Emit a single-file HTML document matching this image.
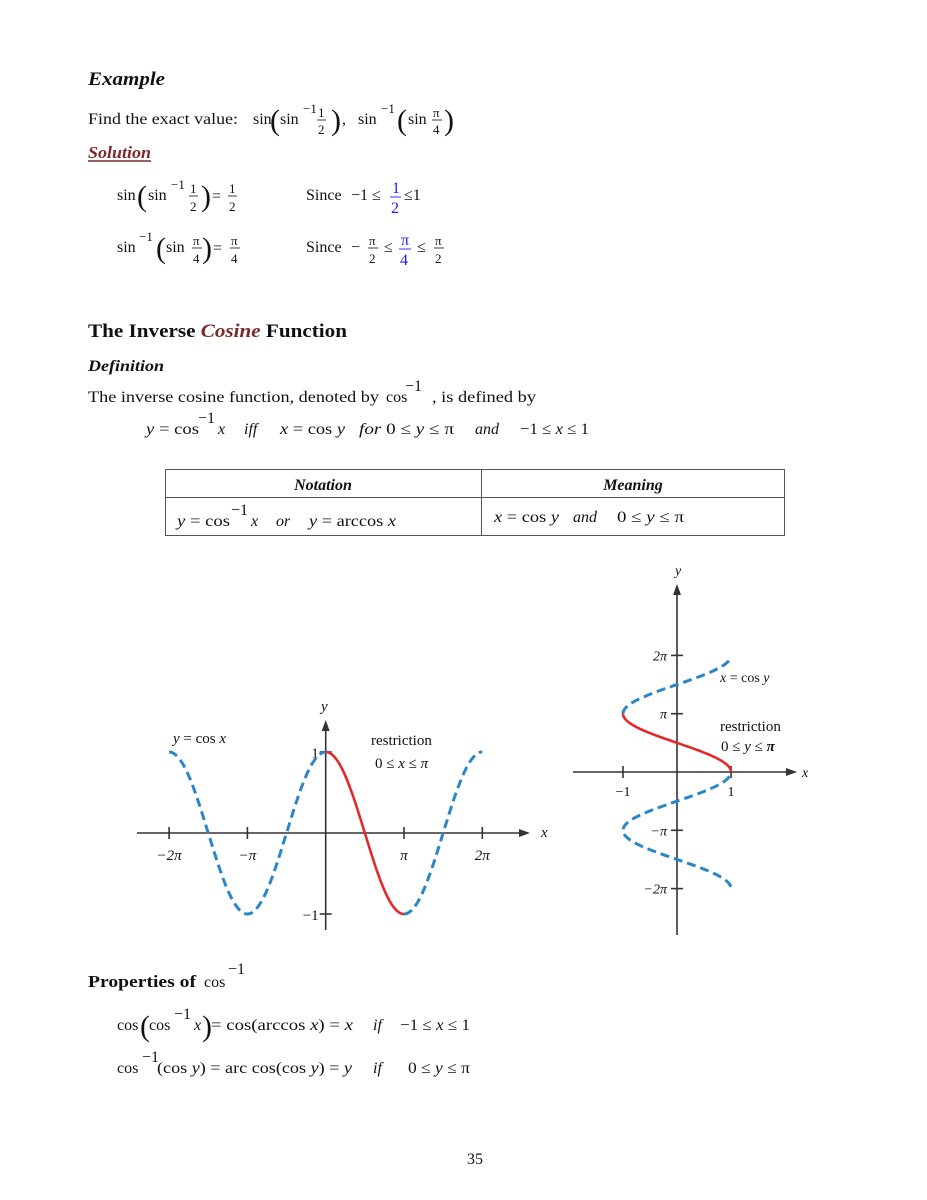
<!DOCTYPE html>
<html><head><meta charset="utf-8">
<style>
html,body{margin:0;padding:0;background:#fff;}
svg{display:block;}
text{font-family:"Liberation Serif",serif;fill:#111;white-space:pre;}
.m{font-size:16px;}
.f{font-size:13px;}
.i{font-style:italic;}
.b{font-weight:bold;}
.blue{fill:#1a1aff;}
.p{font-size:30px;font-weight:normal;}
.ax{stroke:#333;stroke-width:1.6;fill:none;}
</style></head>
<body>
<svg id="page" width="927" height="1200" viewBox="0 0 927 1200" xmlns="http://www.w3.org/2000/svg">
<g>
<text x="88" y="85" class="b i" font-size="19" textLength="77" lengthAdjust="spacingAndGlyphs">Example</text>
<text x="88" y="124" class="m" textLength="150" lengthAdjust="spacingAndGlyphs">Find the exact value:</text>
<text x="253" y="124" class="m">sin</text>
<text x="270" y="130" class="p">(</text>
<text x="280" y="124" class="m">sin</text>
<text x="303" y="113" class="f">−1</text>
<text x="318" y="117" class="f">1</text><line x1="317" y1="120" x2="326" y2="120" stroke="#111" stroke-width="0.8"/><text x="318" y="134" class="f">2</text>
<text x="331" y="130" class="p">)</text>
<text x="342" y="124" class="m">,</text>
<text x="358" y="124" class="m">sin</text>
<text x="381" y="113" class="f">−1</text>
<text x="397" y="130" class="p">(</text>
<text x="408" y="124" class="m">sin</text>
<text x="433" y="117" class="f">π</text><line x1="432" y1="120" x2="442" y2="120" stroke="#111" stroke-width="0.8"/><text x="433" y="134" class="f">4</text>
<text x="444" y="130" class="p">)</text>
<text x="88" y="158" class="b i" font-size="17" style="fill:#7b2a2a" textLength="63" lengthAdjust="spacingAndGlyphs">Solution</text>
<line x1="88" y1="161" x2="151" y2="161" stroke="#7b2a2a" stroke-width="1.5"/>

<text x="117" y="200" class="m">sin</text><text x="137" y="206" class="p">(</text><text x="148" y="200" class="m">sin</text><text x="171" y="189" class="f">−1</text>
<text x="190" y="193" class="f">1</text><line x1="189" y1="196" x2="198" y2="196" stroke="#111" stroke-width="0.8"/><text x="190" y="211" class="f">2</text>
<text x="201" y="206" class="p">)</text><text x="212" y="201" class="m">=</text>
<text x="229" y="193" class="f">1</text><line x1="228" y1="196" x2="237" y2="196" stroke="#111" stroke-width="0.8"/><text x="229" y="211" class="f">2</text>
<text x="306" y="200" class="m">Since</text><text x="351" y="200" class="m">−1 ≤</text>
<text x="392" y="193" class="m blue">1</text><line x1="390" y1="197" x2="401" y2="197" stroke="#1a1aff" stroke-width="0.9"/><text x="391" y="213" class="m blue">2</text>
<text x="404" y="200" class="m">≤1</text>

<text x="117" y="252" class="m">sin</text><text x="139" y="241" class="f">−1</text><text x="156" y="258" class="p">(</text><text x="166" y="252" class="m">sin</text>
<text x="193" y="245" class="f">π</text><line x1="192" y1="248" x2="202" y2="248" stroke="#111" stroke-width="0.8"/><text x="193" y="263" class="f">4</text>
<text x="202" y="258" class="p">)</text><text x="213" y="253" class="m">=</text>
<text x="231" y="245" class="f">π</text><line x1="230" y1="248" x2="240" y2="248" stroke="#111" stroke-width="0.8"/><text x="231" y="263" class="f">4</text>
<text x="306" y="252" class="m">Since</text><text x="351" y="252" class="m">−</text>
<text x="369" y="245" class="f">π</text><line x1="368" y1="248" x2="378" y2="248" stroke="#111" stroke-width="0.8"/><text x="369" y="263" class="f">2</text>
<text x="384" y="252" class="m">≤</text>
<text x="401" y="245" class="m blue">π</text><line x1="399" y1="249" x2="411" y2="249" stroke="#1a1aff" stroke-width="0.9"/><text x="400" y="265" class="m blue">4</text>
<text x="417" y="252" class="m">≤</text>
<text x="435" y="245" class="f">π</text><line x1="434" y1="248" x2="444" y2="248" stroke="#111" stroke-width="0.8"/><text x="435" y="263" class="f">2</text>
</g>

<g>
<text x="88" y="337" class="b" font-size="19" textLength="259" lengthAdjust="spacingAndGlyphs">The Inverse <tspan class="i" style="fill:#7b2a2a">Cosine</tspan> Function</text>
<text x="88" y="371" class="b i" font-size="16" textLength="76" lengthAdjust="spacingAndGlyphs">Definition</text>
<text x="88" y="402" class="m" textLength="291" lengthAdjust="spacingAndGlyphs">The inverse cosine function, denoted by</text>
<text x="386" y="402" class="m">cos</text>
<text x="405" y="391" class="m">−1</text><text x="432" y="402" class="m" textLength="104" lengthAdjust="spacingAndGlyphs">, is defined by</text>
<g>
<text x="146" y="434" class="m" textLength="53" lengthAdjust="spacingAndGlyphs"><tspan class="i">y</tspan> = cos</text>
<text x="198" y="423" class="m">−1</text>
<text x="218" y="434" class="m i">x</text>
<text x="244" y="434" class="m i">iff</text>
<text x="280" y="434" class="m" textLength="65" lengthAdjust="spacingAndGlyphs"><tspan class="i">x</tspan> = cos <tspan class="i">y</tspan></text>
<text x="359" y="434" class="m" textLength="95" lengthAdjust="spacingAndGlyphs"><tspan class="i">for</tspan> 0 ≤ <tspan class="i">y</tspan> ≤ π</text>
<text x="475" y="434" class="m i">and</text>
<text x="520" y="434" class="m" textLength="69" lengthAdjust="spacingAndGlyphs">−1 ≤ <tspan class="i">x</tspan> ≤ 1</text>
</g>
</g>

<g>
<rect x="165.5" y="469.5" width="619" height="66" fill="none" stroke="#555" stroke-width="1"/>
<line x1="165" y1="497.5" x2="784" y2="497.5" stroke="#555"/>
<line x1="481.5" y1="469" x2="481.5" y2="536" stroke="#555"/>
<text x="323" y="490" class="b i m" text-anchor="middle">Notation</text>
<text x="633" y="490" class="b i m" text-anchor="middle">Meaning</text>
<g>
<text x="177" y="526" class="m" textLength="53" lengthAdjust="spacingAndGlyphs"><tspan class="i">y</tspan> = cos</text>
<text x="231" y="515" class="m">−1</text>
<text x="251" y="526" class="m i">x</text>
<text x="276" y="526" class="m i">or</text>
<text x="309" y="526" class="m" textLength="87" lengthAdjust="spacingAndGlyphs"><tspan class="i">y</tspan> = arccos <tspan class="i">x</tspan></text>
</g>
<g>
<text x="494" y="522" class="m" textLength="65" lengthAdjust="spacingAndGlyphs"><tspan class="i">x</tspan> = cos <tspan class="i">y</tspan></text>
<text x="573" y="522" class="m i">and</text>
<text x="617" y="522" class="m" textLength="67" lengthAdjust="spacingAndGlyphs">0 ≤ <tspan class="i">y</tspan> ≤ π</text>
</g>
</g>

<g id="chart1"></g>
<g id="chart2"></g>

<g>
<text x="88" y="987" class="b" font-size="17" textLength="108" lengthAdjust="spacingAndGlyphs">Properties of</text>
<text x="204" y="987" class="m">cos</text><text x="228" y="974" class="m">−1</text>
<g>
<text x="117" y="1030" class="m">cos</text><text x="140" y="1036" class="p">(</text><text x="149" y="1030" class="m">cos</text><text x="174" y="1019" class="m">−1</text>
<text x="194" y="1030" class="m i">x</text><text x="202" y="1036" class="p">)</text>
<text x="211" y="1030" class="m" textLength="142" lengthAdjust="spacingAndGlyphs">= cos(arccos <tspan class="i">x</tspan>) = <tspan class="i">x</tspan></text>
<text x="373" y="1030" class="m i">if</text>
<text x="400" y="1030" class="m" textLength="70" lengthAdjust="spacingAndGlyphs">−1 ≤ <tspan class="i">x</tspan> ≤ 1</text>
</g>
<g>
<text x="117" y="1073" class="m">cos</text><text x="142" y="1062" class="m">−1</text>
<text x="157" y="1073" class="m" textLength="195" lengthAdjust="spacingAndGlyphs">(cos <tspan class="i">y</tspan>) = arc cos(cos <tspan class="i">y</tspan>) = <tspan class="i">y</tspan></text>
<text x="373" y="1073" class="m i">if</text>
<text x="408" y="1073" class="m" textLength="62" lengthAdjust="spacingAndGlyphs">0 ≤ <tspan class="i">y</tspan> ≤ π</text>
</g>
</g>
<text x="475" y="1164" class="m" text-anchor="middle">35</text>
</svg>
<script>
// Chart data
const xTicks1 = [-2, -1, 1, 2];          // multiples of pi
const xTickLabels1 = ["−2π", "−π", "π", "2π"];
const yTicks1 = [1, -1];
const yTickLabels1 = ["1", "−1"];
const domain1 = [-2, 2];                 // x range in units of pi
const restriction1 = [0, 1];             // 0..pi

const xTicks2 = [-1, 1];
const xTickLabels2 = ["−1", "1"];
const yTicks2 = [2, 1, -1, -2];          // multiples of pi
const yTickLabels2 = ["2π", "π", "−π", "−2π"];
const domain2 = [-1.97, 1.98];           // y range in units of pi
const restriction2 = [0, 1];

const NS = "http://www.w3.org/2000/svg";
function mk(tag, attrs, parent) {
  const e = document.createElementNS(NS, tag);
  for (const k in attrs) e.setAttribute(k, attrs[k]);
  parent.appendChild(e); return e;
}
const BLUE = "#2b86c8", RED = "#e32a2a";

// Chart 1: y = cos x
(function(){
  const g = document.getElementById('chart1');
  const ox = 325.7, oy = 833, px = 78.3, uy = 81;
  const X = t => ox + t * px, Y = v => oy - v * uy;
  let e;
  e = mk('line', {x1:137, y1:oy, x2:522, y2:oy, class:'ax'}, g);
  
  
  mk('path', {d:`M530 ${oy} L519 ${oy-4} L519 ${oy+4} Z`, fill:'#333'}, g);
  e = mk('line', {x1:ox, y1:930, x2:ox, y2:728, class:'ax'}, g);
  
  
  mk('path', {d:`M${ox} 720 L${ox-4} 731 L${ox+4} 731 Z`, fill:'#333'}, g);
  e = mk('text', {x:541, y:837, 'font-size':15, class:'i', fill:'#555'}, g); e.textContent = 'x';
   
  e = mk('text', {x:321, y:711, 'font-size':15, class:'i'}, g); e.textContent = 'y';
   
  xTicks1.forEach((t, i) => {
    mk('line', {x1:X(t), y1:oy-6, x2:X(t), y2:oy+6, class:'ax'}, g);
    const tx = mk('text', {x:X(t), y:860, 'font-size':15, 'text-anchor':'middle', class:'i', fill:'#444'}, g);
    tx.textContent = xTickLabels1[i];
    
    
  });
  yTicks1.forEach((v, i) => {
    mk('line', {x1:ox-6, y1:Y(v), x2:ox+6, y2:Y(v), class:'ax'}, g);
    const tx = mk('text', {x:ox-7, y:Y(v)+6, 'font-size':15, 'text-anchor':'end', fill:'#444'}, g);
    tx.textContent = yTickLabels1[i];
    
    
  });
  function pts(a, b) {
    const r = []; const n = 120;
    for (let k = 0; k <= n; k++) { const t = a + (b - a) * k / n; r.push(X(t).toFixed(1) + ',' + Y(Math.cos(t * Math.PI)).toFixed(1)); }
    return r.join(' ');
  }
  e = mk('polyline', {points:pts(domain1[0], restriction1[0]), fill:'none', stroke:BLUE, 'stroke-width':3, 'stroke-dasharray':'9 5'}, g);
   
  e = mk('polyline', {points:pts(restriction1[1], domain1[1]), fill:'none', stroke:BLUE, 'stroke-width':3, 'stroke-dasharray':'9 5'}, g);
   
  e = mk('polyline', {points:pts(restriction1[0], restriction1[1]), fill:'none', stroke:RED, 'stroke-width':2.6}, g);
   
  e = mk('text', {x:173, y:743, 'font-size':15, fill:BLUE}, g);
  e.innerHTML = '<tspan font-style="italic">y</tspan> = cos <tspan font-style="italic">x</tspan>';
   
  e = mk('text', {x:371, y:745, 'font-size':15, fill:RED}, g); e.textContent = 'restriction';
   
  e = mk('text', {x:375, y:768, 'font-size':15, fill:RED}, g);
  e.innerHTML = '0 ≤ <tspan font-style="italic">x</tspan> ≤ <tspan font-style="italic">π</tspan>';
   
})();

// Chart 2: x = cos y
(function(){
  const g = document.getElementById('chart2');
  const ox = 677, oy = 772, ux = 54, py = 58.3;
  const X = v => ox + v * ux, Y = t => oy - t * py;
  let e;
  e = mk('line', {x1:573, y1:oy, x2:790, y2:oy, class:'ax'}, g);
   
  mk('path', {d:`M797 ${oy} L786 ${oy-4} L786 ${oy+4} Z`, fill:'#333'}, g);
  e = mk('line', {x1:ox, y1:935, x2:ox, y2:592, class:'ax'}, g);
   
  mk('path', {d:`M${ox} 584 L${ox-4} 595 L${ox+4} 595 Z`, fill:'#333'}, g);
  e = mk('text', {x:802, y:777, 'font-size':14, class:'i', fill:'#555'}, g); e.textContent = 'x';
   
  e = mk('text', {x:675, y:575, 'font-size':14, class:'i', fill:'#555'}, g); e.textContent = 'y';
   
  xTicks2.forEach((v, i) => {
    mk('line', {x1:X(v), y1:oy-6, x2:X(v), y2:oy+6, class:'ax'}, g);
    const tx = mk('text', {x:X(v), y:796, 'font-size':14, 'text-anchor':'middle', fill:'#444'}, g);
    tx.textContent = xTickLabels2[i];
     
  });
  yTicks2.forEach((t, i) => {
    mk('line', {x1:ox-6, y1:Y(t), x2:ox+6, y2:Y(t), class:'ax'}, g);
    const tx = mk('text', {x:ox-10, y:Y(t)+5, 'font-size':14, 'text-anchor':'end', class:'i', fill:'#444'}, g);
    tx.textContent = yTickLabels2[i];
     
  });
  function pts(a, b) {
    const r = []; const n = 120;
    for (let k = 0; k <= n; k++) { const t = a + (b - a) * k / n; r.push(X(Math.cos(t * Math.PI)).toFixed(1) + ',' + Y(t).toFixed(1)); }
    return r.join(' ');
  }
  e = mk('polyline', {points:pts(domain2[0], restriction2[0]), fill:'none', stroke:BLUE, 'stroke-width':3, 'stroke-dasharray':'9 5'}, g);
   
  e = mk('polyline', {points:pts(restriction2[1], domain2[1]), fill:'none', stroke:BLUE, 'stroke-width':3, 'stroke-dasharray':'9 5'}, g);
   
  e = mk('polyline', {points:pts(restriction2[0], restriction2[1]), fill:'none', stroke:RED, 'stroke-width':2.6}, g);
   
  e = mk('text', {x:720, y:682, 'font-size':14, fill:BLUE}, g);
  e.innerHTML = '<tspan font-style="italic">x</tspan> = cos <tspan font-style="italic">y</tspan>';
   
  e = mk('text', {x:720, y:731, 'font-size':15, fill:RED}, g); e.textContent = 'restriction';
   
  e = mk('text', {x:721, y:751, 'font-size':15, fill:RED}, g);
  e.innerHTML = '0 ≤ <tspan font-style="italic">y</tspan> ≤ <tspan font-style="italic" font-weight="bold">π</tspan>';
   
})();
</script>
</body></html>
